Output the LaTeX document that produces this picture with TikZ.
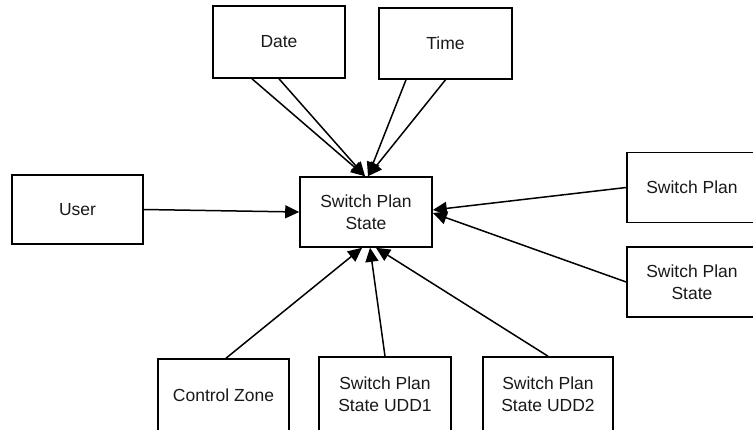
\documentclass[tikz,border=0pt]{standalone}
\usepackage{fontspec}
\setmainfont{Liberation Sans}
\usetikzlibrary{arrows.meta}
\begin{document}
\begin{tikzpicture}[x=1pt,y=-1pt,
  box/.style={draw=black,line width=1.6pt,fill=white,align=center,
    font=\fontsize{17.5}{21.5}\selectfont,text=black!90,inner sep=0pt},
  conn/.style={line width=1.5pt,-{Triangle[length=14pt,width=13pt]}}]
\useasboundingbox (0,0) rectangle (753,429);
\node[box,minimum width=132pt,minimum height=72pt] (date) at (279,42) {Date};
\node[box,minimum width=133pt,minimum height=71pt] (time) at (445.5,43.5) {Time};
\node[box,minimum width=132pt,minimum height=70pt] (center) at (366,212) {Switch Plan\\State};
\node[box,minimum width=131pt,minimum height=69pt] (user) at (77.5,209.5) {User};
\node[box,minimum width=130pt,minimum height=70pt] (sp) at (692,187.5) {Switch Plan};
\node[box,minimum width=130pt,minimum height=70pt] (sps) at (692,282) {Switch Plan\\State};
\node[box,minimum width=131pt,minimum height=72pt] (cz) at (223.5,395) {Control Zone};
\node[box,minimum width=132pt,minimum height=74pt] (udd1) at (385,394) {Switch Plan\\State UDD1};
\node[box,minimum width=130pt,minimum height=74pt] (udd2) at (548,394) {Switch Plan\\State UDD2};
\draw[conn] ([xshift=-27pt]date.south) -- ([xshift=-1pt]center.north);
\draw[conn] (date.south) -- ([xshift=-1pt]center.north);
\draw[conn] ([xshift=-39.5pt]time.south) -- ([xshift=2pt]center.north);
\draw[conn] (time.south) -- ([xshift=2pt]center.north);
\draw[conn] (user.east) -- (center.west);
\draw[conn] (sp.west) -- ([yshift=2pt]center.east);
\draw[conn] (sps.west) -- ([yshift=-1pt]center.east);
\draw[conn] ([xshift=2.5pt]cz.north) -- ([xshift=-4pt]center.south);
\draw[conn] (udd1.north) -- ([xshift=4pt]center.south);
\draw[conn] (udd2.north) -- ([xshift=10pt]center.south);
\end{tikzpicture}
\end{document}
